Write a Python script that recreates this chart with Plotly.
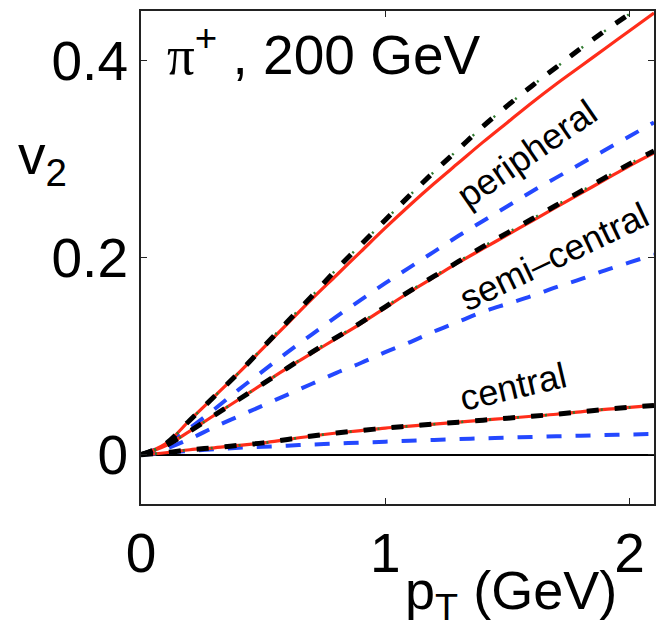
import plotly.graph_objects as go

# transverse momentum grid (GeV)
pt = [0.0, 0.1, 0.2, 0.3, 0.4, 0.5, 0.6, 0.7, 0.8, 0.9, 1.0, 1.1,
      1.2, 1.3, 1.4, 1.5, 1.6, 1.7, 1.8, 1.9, 2.0, 2.1]

# peripheral
v2_per_red = [0.0, 0.011, 0.035, 0.059, 0.083, 0.108, 0.133, 0.158, 0.182, 0.206, 0.230, 0.253,
              0.275, 0.296, 0.317, 0.337, 0.357, 0.376, 0.394, 0.412, 0.430, 0.448]
v2_per_black = [0.0, 0.011, 0.035, 0.059, 0.083, 0.109, 0.135, 0.161, 0.188, 0.213, 0.238, 0.263,
                0.287, 0.310, 0.333, 0.354, 0.374, 0.393, 0.412, 0.430, 0.447, 0.463]
v2_per_blue = [0.0, 0.010, 0.027, 0.046, 0.066, 0.085, 0.104, 0.122, 0.140, 0.157, 0.174, 0.190,
               0.206, 0.222, 0.237, 0.252, 0.267, 0.281, 0.295, 0.309, 0.323, 0.337]

# semi-central
v2_semi_red = [0.0, 0.009, 0.024, 0.040, 0.056, 0.072, 0.088, 0.103, 0.118, 0.133, 0.149, 0.165,
               0.180, 0.195, 0.209, 0.223, 0.237, 0.251, 0.265, 0.279, 0.293, 0.306]
v2_semi_black = [0.0, 0.009, 0.024, 0.040, 0.056, 0.072, 0.088, 0.104, 0.119, 0.134, 0.150, 0.166,
                 0.181, 0.196, 0.211, 0.225, 0.239, 0.253, 0.267, 0.281, 0.295, 0.308]
v2_semi_blue = [0.0, 0.006, 0.016, 0.028, 0.039, 0.050, 0.061, 0.072, 0.083, 0.093, 0.104, 0.114,
                0.125, 0.135, 0.145, 0.153, 0.161, 0.170, 0.178, 0.187, 0.195, 0.203]

# central
v2_cen_red = [0.0, 0.002, 0.005, 0.007, 0.0095, 0.012, 0.0155, 0.019, 0.022, 0.0245, 0.027, 0.029,
              0.031, 0.033, 0.035, 0.037, 0.039, 0.041, 0.0435, 0.046, 0.048, 0.050]
v2_cen_blue = [0.0, 0.002, 0.004, 0.0055, 0.007, 0.008, 0.0092, 0.0103, 0.0113, 0.0123, 0.0132, 0.0141,
               0.015, 0.0158, 0.0166, 0.0173, 0.018, 0.0187, 0.0193, 0.0199, 0.0205, 0.021]

RED = "#ff2d1a"
BLUE = "#2448ff"
GREEN = "#2f7a2f"
FONT = "Liberation Sans, Arial, Helvetica, sans-serif"

fig = go.Figure()


def add_line(y, color, width, dash):
    fig.add_trace(go.Scatter(x=pt, y=y, mode="lines", line_shape="spline",
                             line=dict(color=color, width=width, dash=dash),
                             hoverinfo="skip", showlegend=False))


for blue in (v2_per_blue, v2_semi_blue, v2_cen_blue):
    add_line(blue, BLUE, 4, "15px,14px")
for red in (v2_per_red, v2_semi_red, v2_cen_red):
    add_line(red, RED, 3.2, "solid")
for black in (v2_per_black, v2_semi_black, v2_cen_red):
    add_line(black, GREEN, 2.5, "2px,12px")
    add_line(black, "black", 5, "12px,16px")

fig.add_annotation(x=0.098, y=0.409, xref="x", yref="y", xanchor="left", yanchor="middle",
                   text="<span style='font-family:Liberation Serif'>π</span><sup>+</sup> , 200 GeV",
                   showarrow=False, font=dict(size=55, color="black", family=FONT))

for label, x, y, ang in [("peripheral", 1.580, 0.305, -34.6),
                         ("semi–central", 1.690, 0.201, -25.5),
                         ("central", 1.523, 0.0695, -13.2)]:
    fig.add_annotation(x=x, y=y, xref="x", yref="y", text=label, textangle=ang,
                       showarrow=False, xanchor="center", yanchor="middle",
                       font=dict(size=36, color="black", family=FONT))

fig.add_annotation(x=-0.244, y=0.70, xref="paper", yref="paper", xanchor="left", yanchor="middle",
                   text="v<sub>2</sub>", showarrow=False,
                   font=dict(size=55, color="black", family=FONT))
fig.add_annotation(x=0.722, y=-0.182, xref="paper", yref="paper", xanchor="center", yanchor="middle",
                   text="p<sub>T</sub> (GeV)", showarrow=False,
                   font=dict(size=54, color="black", family=FONT))

axis_common = dict(showline=True, linecolor="#222", linewidth=2, mirror="ticks",
                   ticks="inside", ticklen=6, tickwidth=1, tickcolor="#222",
                   showgrid=False, tickfont=dict(size=55, color="black", family=FONT))

fig.update_xaxes(range=[0, 2.1], tickvals=[0, 1, 2], ticktext=["0", "1", "2"],
                 zeroline=False, **axis_common)
fig.update_yaxes(range=[-0.05, 0.45], tickvals=[0, 0.2, 0.4], ticktext=["0", "0.2", "0.4"],
                 zeroline=True, zerolinecolor="black", zerolinewidth=2, **axis_common)

fig.update_layout(width=656, height=631, margin=dict(l=141, r=0, t=11, b=127),
                  plot_bgcolor="white", paper_bgcolor="white")

fig.write_html("out.html")
